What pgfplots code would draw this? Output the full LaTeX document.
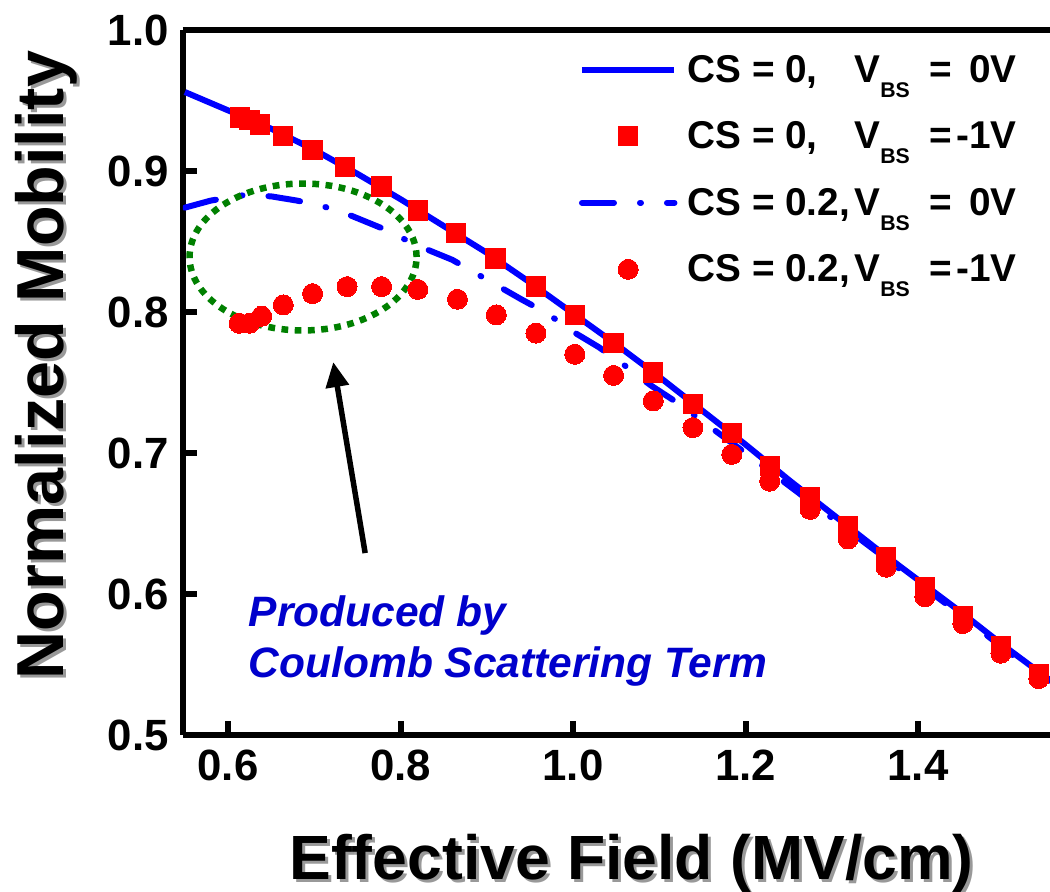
\documentclass[border=0pt]{standalone}
\usepackage{fontspec}
\setmainfont{Liberation Sans}
\usepackage{pgfplots}
\pgfplotsset{compat=1.18}
\usetikzlibrary{arrows.meta}
\definecolor{lineblue}{RGB}{0,0,255}
\definecolor{mkred}{RGB}{255,0,0}
\definecolor{txtblue}{RGB}{0,0,204}
\definecolor{ellgreen}{RGB}{0,128,0}
\newcommand{\lgent}[2]{\raisebox{0pt}[11.6pt][0pt]{\makebox[66.8pt][l]{#1}\makebox[30pt][l]{V\raisebox{-6pt}{\fontsize{8.5}{8.5}\selectfont BS}}\makebox[34.8pt][l]{=\hfill#2}}}
\newcommand{\shadowtext}[3]{\makebox[0pt][l]{\raisebox{#2}{\hspace*{#1}\textcolor{black!40}{#3}}}#3}
\begin{document}
\begin{tikzpicture}
\begin{axis}[
  scale only axis,
  width=346.8pt, height=282pt,
  xmin=0.5478, xmax=1.553,
  ymin=0.5, ymax=1.0,
  axis y line*=left,
  axis line style={line width=2.5pt},
  xtick={0.6,0.8,1.0,1.2,1.4},
  ytick={0.5,0.6,0.7,0.8,0.9,1.0},
  xtick pos=bottom, ytick pos=left,
  tick align=inside,
  major tick length=5.6pt,
  every tick/.style={black, line width=2.4pt},
  /pgf/number format/assume math mode=true,
  xticklabel style={/pgf/number format/fixed, /pgf/number format/fixed zerofill, /pgf/number format/precision=1, yshift=-2.6pt},
  yticklabel style={/pgf/number format/fixed, /pgf/number format/fixed zerofill, /pgf/number format/precision=1, xshift=-2.2pt},
  tick label style={font=\fontsize{17.5}{20}\selectfont\bfseries},
  xlabel={\shadowtext{1.2pt}{-1.2pt}{Effective Field (MV/cm)}},
  ylabel={\shadowtext{-1.2pt}{-1.2pt}{Normalized Mobility}},
  every axis x label/.style={at={(axis description cs:0.5173,-0.2043)}, anchor=base, font=\fontsize{25}{30}\selectfont\bfseries},
  every axis y label/.style={at={(axis description cs:-0.1378,0.5248)}, rotate=90, anchor=base, font=\fontsize{26.6}{30}\selectfont\bfseries},
  legend image code/.code={\draw[mark repeat=2,mark phase=2,#1] plot coordinates {(0cm,0cm) (0.65cm,0cm) (1.3cm,0cm)};},
  legend cell align=left,
  legend style={draw=none, fill=none, inner sep=0pt, at={(axis description cs:0.9619,0.9674)}, anchor=north east,
    nodes={inner sep=0pt}, row sep=13.5pt, column sep=4pt, font=\fontsize{15.5}{18}\selectfont\bfseries},
]
\addplot[lineblue, line width=2.4pt, no markers] coordinates {
(0.55,0.956) (0.60,0.943) (0.65,0.930) (0.70,0.915) (0.75,0.898) (0.80,0.880)
(0.85,0.861) (0.90,0.842) (0.95,0.821) (1.00,0.799) (1.05,0.777) (1.10,0.754)
(1.15,0.730) (1.20,0.706) (1.25,0.681) (1.30,0.657) (1.35,0.633) (1.40,0.610)
(1.45,0.587) (1.50,0.563) (1.555,0.538)};
\addlegendentry{\lgent{CS = 0,}{0V}}
\addplot[mkred, only marks, mark=square*, mark size=3.85pt, mark options={fill=mkred, draw=mkred, line width=0pt}] coordinates {
(0.614,0.938) (0.625,0.936) (0.637,0.933) (0.664,0.925) (0.698,0.915) (0.736,0.903)
(0.778,0.889) (0.820,0.872) (0.864,0.856) (0.910,0.838) (0.957,0.818) (1.002,0.798)
(1.047,0.778) (1.093,0.757) (1.139,0.735) (1.184,0.714) (1.228,0.691) (1.275,0.669)
(1.319,0.648) (1.363,0.626) (1.408,0.605) (1.452,0.584) (1.496,0.563) (1.540,0.543)};
\addlegendentry{\lgent{CS = 0,}{-1V}}
\addplot[lineblue, line width=2.4pt, line cap=round, dash pattern=on 12.8pt off 10.4pt on 0.4pt off 10.4pt, no markers] coordinates {
(0.55,0.874) (0.58,0.879) (0.62,0.883) (0.65,0.882) (0.68,0.879) (0.71,0.875)
(0.74,0.869) (0.78,0.859) (0.82,0.847) (0.86,0.837) (0.90,0.823) (0.94,0.809)
(0.97,0.799) (1.00,0.786) (1.03,0.775) (1.06,0.762) (1.09,0.748) (1.12,0.736)
(1.16,0.718) (1.20,0.700) (1.25,0.677) (1.30,0.654) (1.35,0.631) (1.40,0.608)
(1.45,0.585) (1.50,0.561) (1.555,0.536)};
\addlegendentry{\lgent{CS = 0.2,}{0V}}
\addplot[mkred, only marks, mark=*, mark size=4pt, mark options={fill=mkred, draw=mkred, line width=0pt}] coordinates {
(0.613,0.792) (0.625,0.792) (0.639,0.797) (0.664,0.805) (0.698,0.813) (0.738,0.818)
(0.778,0.818) (0.820,0.816) (0.866,0.809) (0.911,0.798) (0.957,0.785) (1.002,0.770)
(1.047,0.755) (1.093,0.737) (1.139,0.718) (1.184,0.699) (1.228,0.680) (1.275,0.660)
(1.319,0.639) (1.363,0.619) (1.408,0.598) (1.452,0.579) (1.496,0.558) (1.540,0.540)};
\addlegendentry{\lgent{CS = 0.2,}{-1V}}
\draw[ellgreen, line width=2.6pt, dash pattern=on 2.7pt off 2.6pt] (axis cs:0.687,0.839) ellipse [x radius=0.1316, y radius=0.0521];
\draw[black, line width=2.2pt, -{Triangle[length=10pt,width=9pt]}] (axis cs:0.759,0.629) -- (axis cs:0.722,0.7645);
\node[anchor=base west, text=txtblue, font=\fontsize{17}{20}\selectfont\bfseries\itshape] at (axis cs:0.614,0.577) {Produced by};
\node[anchor=base west, text=txtblue, font=\fontsize{17}{20}\selectfont\bfseries\itshape] at (axis cs:0.614,0.541) {Coulomb Scattering Term};
\coordinate (SW) at (rel axis cs:0,0);
\coordinate (NE) at (rel axis cs:1,1);
\end{axis}
\pgfresetboundingbox
\path ([shift={(-73.2pt,-62.8pt)}]SW) rectangle ([shift={(0pt,12pt)}]NE);
\end{tikzpicture}
\end{document}
